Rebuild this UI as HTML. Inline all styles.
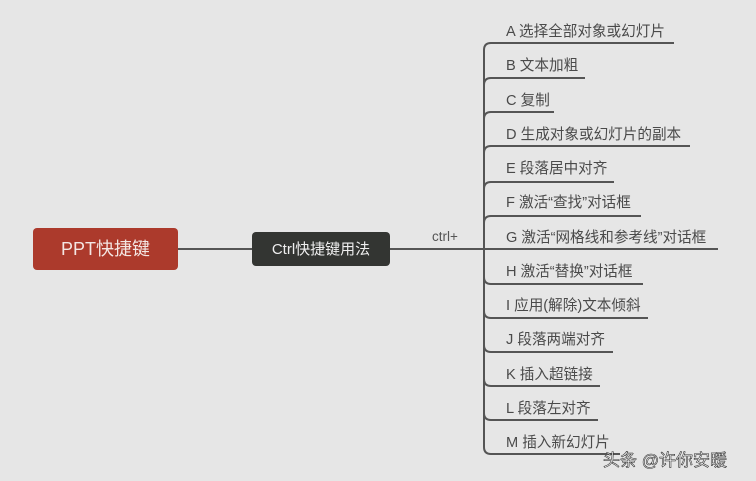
<!DOCTYPE html>
<html><head><meta charset="utf-8"><style>
html,body{margin:0;padding:0;background:#e6e6e6;}
svg{display:block}
text{font-family:"Liberation Sans","Noto Sans CJK SC",sans-serif;}
</style></head><body>
<svg width="756" height="481" viewBox="0 0 756 481" xmlns="http://www.w3.org/2000/svg">
<rect width="756" height="481" fill="#e6e6e6"/>
<g stroke="#555" stroke-width="2" fill="none">
<line x1="178" y1="249" x2="252" y2="249"/>
<line x1="390" y1="249" x2="718" y2="249"/>
<line x1="484" y1="50" x2="484" y2="447"/>
<path d="M484 50 Q484 43 491 43 H674"/>
<path d="M484 85 Q484 78 491 78 H585"/>
<path d="M484 119 Q484 112 491 112 H554"/>
<path d="M484 153 Q484 146 491 146 H690"/>
<path d="M484 189 Q484 182 491 182 H614"/>
<path d="M484 223 Q484 216 491 216 H641"/>
<path d="M484 277 Q484 284 491 284 H643"/>
<path d="M484 311 Q484 318 491 318 H648"/>
<path d="M484 345 Q484 352 491 352 H613"/>
<path d="M484 379 Q484 386 491 386 H600"/>
<path d="M484 413 Q484 420 491 420 H598"/>
<path d="M484 447 Q484 454 491 454 H620"/>
</g>
<rect x="33" y="228" width="145" height="42" rx="4" fill="#ac3a2c"/>
<text x="105.5" y="255" font-size="18" fill="#f4e6e3" text-anchor="middle">PPT快捷键</text>
<rect x="252" y="232" width="138" height="34" rx="4" fill="#333532"/>
<text x="321" y="254" font-size="15" fill="#eee" text-anchor="middle">Ctrl快捷键用法</text>
<text x="432" y="241" font-size="13.5" fill="#555">ctrl+</text>
<g font-size="14.6" fill="#4a4a4a">
<text x="506" y="36">A  选择全部对象或幻灯片</text>
<text x="506" y="70">B  文本加粗</text>
<text x="506" y="105">C  复制</text>
<text x="506" y="139">D  生成对象或幻灯片的副本</text>
<text x="506" y="173">E  段落居中对齐</text>
<text x="506" y="207">F  激活“查找”对话框</text>
<text x="506" y="242">G  激活“网格线和参考线”对话框</text>
<text x="506" y="276">H  激活“替换”对话框</text>
<text x="506" y="310">I  应用(解除)文本倾斜</text>
<text x="506" y="344">J  段落两端对齐</text>
<text x="506" y="379">K  插入超链接</text>
<text x="506" y="413">L  段落左对齐</text>
<text x="506" y="447">M  插入新幻灯片</text>
</g>
<text x="603" y="466" font-size="17" fill="#fff" stroke="#333" stroke-width="0.6">头条 @许你安暖</text>
</svg>
</body></html>
